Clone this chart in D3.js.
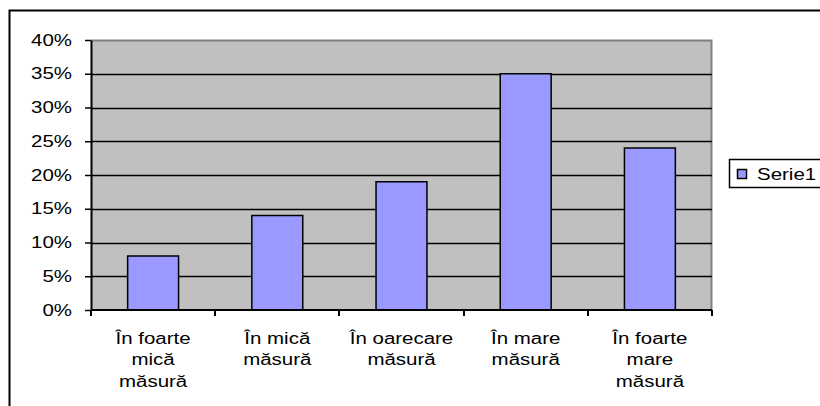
<!DOCTYPE html>
<html>
<head>
<meta charset="utf-8">
<script src="https://cdn.jsdelivr.net/npm/d3@7"></script>
<style>
  body { margin: 0; background: #fff; }
  text { font-family: "Liberation Sans", Arial, sans-serif; font-size: 16px; fill: #000; }
</style>
</head>
<body>
<div id="chart"></div>
<script>
// chart data
const categories = [
    ["În foarte", "mică", "măsură"],
    ["În mică", "măsură"],
    ["În oarecare", "măsură"],
    ["În mare", "măsură"],
    ["În foarte", "mare", "măsură"]
];
const values = [0.08, 0.14, 0.19, 0.35, 0.24];
const yTicks = [0, 0.05, 0.10, 0.15, 0.20, 0.25, 0.30, 0.35, 0.40];
const seriesName = "Serie1";

const W = 820, H = 406;
const margin = { top: 40, right: 108, bottom: 96, left: 91 };
const width = W - margin.left - margin.right;
const height = H - margin.top - margin.bottom;

// the original text is drawn wide, so stretch it horizontally
const stretch = 1.28;

let svg = d3.select("#chart").append("svg")
    .attr("width", W)
    .attr("height", H);

// outer chart border (cropped at right / bottom)
svg.append("path")
    .attr("d", "M9.5," + H + " V10.5 H" + W)
    .attr("fill", "none")
    .attr("stroke", "#000")
    .attr("stroke-width", 2);

let g = svg.append("g")
    .attr("transform", "translate(" + margin.left + "," + margin.top + ")");

let x = d3.scaleBand()
    .domain(d3.range(categories.length))
    .range([0, width])
    .paddingInner(0.59)
    .paddingOuter(0.295);

let xOuter = d3.scaleLinear()
    .domain([0, categories.length])
    .range([0, width]);

let y = d3.scaleLinear()
    .domain([0, 0.4])
    .range([height, 0]);

// plot area
g.append("rect")
    .attr("width", width)
    .attr("height", height)
    .attr("fill", "#c0c0c0");

g.append("path")
    .attr("d", "M0,0.5 H" + (width - 0.5) + " V" + height)
    .attr("fill", "none")
    .attr("stroke", "#808080")
    .attr("stroke-width", 2);

// gridlines
g.selectAll(".grid")
    .data(yTicks.slice(1, -1))
    .enter()
    .append("line")
    .attr("class", "grid")
    .attr("x1", 0)
    .attr("x2", width)
    .attr("y1", d => Math.round(y(d)) + 0.5)
    .attr("y2", d => Math.round(y(d)) + 0.5)
    .attr("stroke", "#000")
    .attr("stroke-width", 1.5);

// bars
g.selectAll(".bar")
    .data(values)
    .enter()
    .append("rect")
    .attr("class", "bar")
    .attr("x", (d, i) => x(i))
    .attr("y", d => y(d))
    .attr("width", x.bandwidth())
    .attr("height", d => height - y(d))
    .attr("fill", "#9999ff")
    .attr("stroke", "#000")
    .attr("stroke-width", 1.5);

// y axis
let yAxis = d3.axisLeft(y)
    .tickValues(yTicks)
    .tickFormat(d3.format(".0%"))
    .tickSize(6)
    .tickSizeOuter(0);

let yG = g.append("g").call(yAxis);
yG.select(".domain").attr("stroke", "#000").attr("stroke-width", 2);
yG.selectAll(".tick line").attr("stroke", "#000").attr("stroke-width", 1.5);
yG.selectAll("text")
    .attr("font-size", 16)
    .attr("font-family", "Liberation Sans, Arial, sans-serif")
    .attr("x", -19 / stretch)
    .attr("transform", "scale(" + stretch + ",1)");

// x axis
let xG = g.append("g").attr("transform", "translate(0," + height + ")");
xG.append("line")
    .attr("x1", 0).attr("x2", width)
    .attr("y1", 0).attr("y2", 0)
    .attr("stroke", "#000").attr("stroke-width", 2);

xG.selectAll(".xtick")
    .data(d3.range(categories.length + 1))
    .enter()
    .append("line")
    .attr("class", "xtick")
    .attr("x1", d => Math.round(xOuter(d)))
    .attr("x2", d => Math.round(xOuter(d)))
    .attr("y1", 0)
    .attr("y2", 6)
    .attr("stroke", "#000")
    .attr("stroke-width", 2);

let labels = xG.selectAll(".xlabel")
    .data(categories)
    .enter()
    .append("text")
    .attr("class", "xlabel")
    .attr("text-anchor", "middle")
    .attr("transform", (d, i) => "translate(" + (x(i) + x.bandwidth() / 2) + ",34) scale(" + stretch + ",1)");

labels.selectAll("tspan")
    .data(d => d)
    .enter()
    .append("tspan")
    .attr("x", 0)
    .attr("y", (d, i) => i * 21.5)
    .text(d => d);

// legend
let legend = svg.append("g").attr("transform", "translate(729,159)");
legend.append("rect")
    .attr("x", 0.5).attr("y", 0.5)
    .attr("width", 100).attr("height", 28)
    .attr("fill", "#fff")
    .attr("stroke", "#000")
    .attr("stroke-width", 1.5);
legend.append("rect")
    .attr("x", 8.5).attr("y", 10.5)
    .attr("width", 9).attr("height", 9)
    .attr("fill", "#9999ff")
    .attr("stroke", "#000")
    .attr("stroke-width", 1.5);
legend.append("text")
    .attr("transform", "translate(28,20.5) scale(" + stretch + ",1)")
    .text(seriesName);
</script>
</body>
</html>
